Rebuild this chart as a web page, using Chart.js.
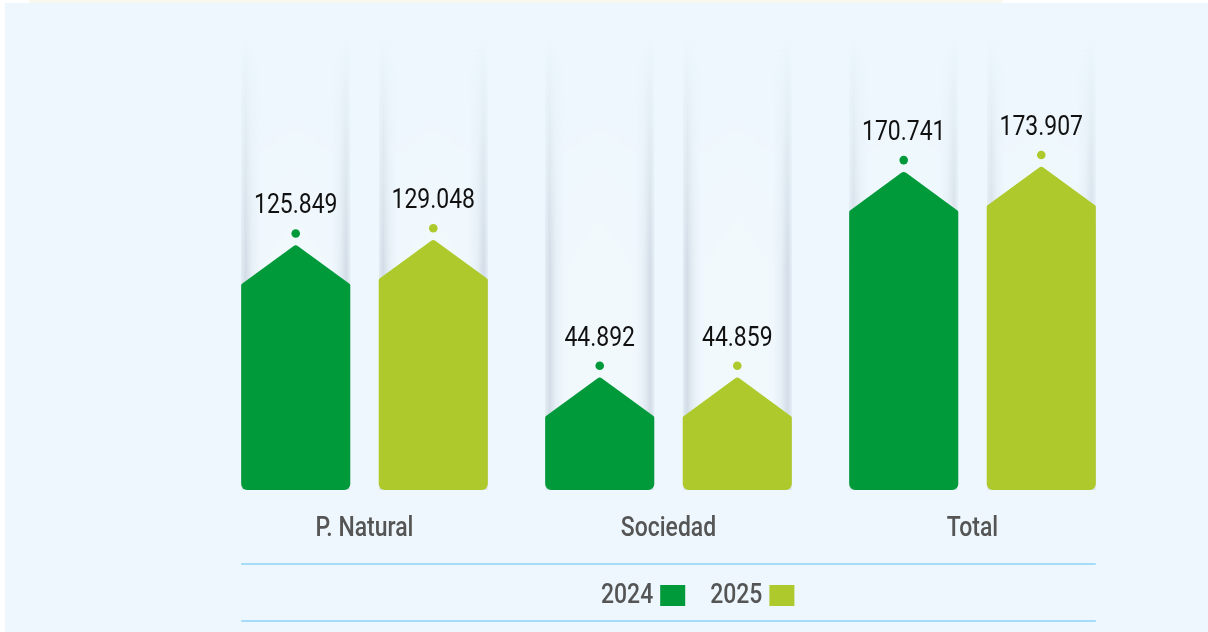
<!DOCTYPE html>
<html>
<head>
<meta charset="utf-8">
<script src="https://cdn.jsdelivr.net/npm/chart.js@4.4.1/dist/chart.umd.min.js"></script>
<style>
  html, body { margin: 0; padding: 0; background: #ffffff; width: 1208px; height: 632px; overflow: hidden; }
  #strip { position: absolute; left: 29px; top: 0; width: 973px; height: 3px; background: #f8f8ee; }
  #panel { position: absolute; left: 5px; top: 3px; width: 1203px; height: 629px; background: #edf7fd; }
  #c { position: absolute; left: 0; top: 0; }
</style>
</head>
<body>
<div id="strip"></div>
<div id="panel"></div>
<canvas id="c" width="1208" height="632"></canvas>
<script>
const categories = ['P. Natural', 'Sociedad', 'Total'];
const seriesNames = ['2024', '2025'];
const values2024 = [125849, 44892, 170741];
const values2025 = [129048, 44859, 173907];
const seriesColors = ['#019a3a', '#adc92b'];

const FONT = "Roboto, 'Liberation Sans', sans-serif";
const SQUEEZE = 0.82;

function fmt(v) {
  return String(v).replace(/\B(?=(\d{3})+(?!\d))/g, '.');
}

function narrowText(ctx, text, x, y, align) {
  ctx.save();
  ctx.translate(x, y);
  ctx.scale(SQUEEZE, 1);
  ctx.textAlign = align;
  ctx.textBaseline = 'middle';
  ctx.fillText(text, 0, 0);
  ctx.restore();
}

function makeColumn(w, h, fadeTop) {
  const oc = document.createElement('canvas');
  oc.width = Math.ceil(w); oc.height = Math.ceil(h);
  const o = oc.getContext('2d');
  const g = o.createLinearGradient(0, 0, w, 0);
  g.addColorStop(0.00, 'rgba(190,198,212,0.22)');
  g.addColorStop(0.04, 'rgba(178,187,202,0.45)');
  g.addColorStop(0.10, 'rgba(210,217,228,0.25)');
  g.addColorStop(0.18, 'rgba(255,255,255,0.22)');
  g.addColorStop(0.50, 'rgba(255,255,255,0.28)');
  g.addColorStop(0.82, 'rgba(255,255,255,0.22)');
  g.addColorStop(0.90, 'rgba(210,217,228,0.25)');
  g.addColorStop(0.96, 'rgba(178,187,202,0.45)');
  g.addColorStop(1.00, 'rgba(190,198,212,0.22)');
  o.fillStyle = g;
  o.fillRect(0, 0, w, h);
  o.globalCompositeOperation = 'destination-in';
  const m = o.createLinearGradient(0, 0, 0, h);
  m.addColorStop(0, 'rgba(0,0,0,0)');
  m.addColorStop(Math.min(1, fadeTop / h), 'rgba(0,0,0,1)');
  m.addColorStop(1, 'rgba(0,0,0,1)');
  o.fillStyle = m;
  o.fillRect(0, 0, w, h);
  return oc;
}

const housePlugin = {
  id: 'house',
  beforeDatasetsDraw(chart) {
    const ctx = chart.ctx;
    const colTop = 37;
    chart.data.datasets.forEach((ds, di) => {
      const meta = chart.getDatasetMeta(di);
      meta.data.forEach((el) => {
        const p = el.getProps(['x', 'base', 'width'], true);
        const left = p.x - p.width / 2;
        const h = p.base - colTop;
        const img = makeColumn(p.width, h, 230);
        ctx.drawImage(img, left, colTop);
      });
    });
  },
  beforeDatasetDraw(chart, args) {
    const ctx = chart.ctx;
    const meta = args.meta;
    const ds = chart.data.datasets[args.index];
    const color = ds.backgroundColor;
    const roof = 40;
    meta.data.forEach((el, i) => {
      const p = el.getProps(['x', 'y', 'base', 'width'], true);
      const left = p.x - p.width / 2, right = p.x + p.width / 2;
      const top = p.y, bottom = p.base, r = 6;
      ctx.save();
      ctx.beginPath();
      ctx.moveTo(left, top + 2);
      ctx.arcTo(left, top, p.x, top - roof, 2);
      ctx.arcTo(p.x, top - roof, right, top, 4);
      ctx.arcTo(right, top, right, bottom, 2);
      ctx.lineTo(right, bottom - r);
      ctx.arcTo(right, bottom, right - r, bottom, r);
      ctx.lineTo(left + r, bottom);
      ctx.arcTo(left, bottom, left, bottom - r, r);
      ctx.closePath();
      ctx.fillStyle = color;
      ctx.fill();
      ctx.beginPath();
      ctx.arc(p.x, top - roof - 11, 4.3, 0, Math.PI * 2);
      ctx.fill();
      ctx.fillStyle = '#111111';
      ctx.font = '28px ' + FONT;
      narrowText(ctx, fmt(ds.data[i]), p.x, top - roof - 38, 'center');
      ctx.restore();
    });
    return false;
  },
  afterDraw(chart) {
    const ctx = chart.ctx;
    const xs = chart.scales.x;
    ctx.save();
    ctx.fillStyle = '#555555';
    ctx.font = '500 28px ' + FONT;
    categories.forEach((c, i) => {
      narrowText(ctx, c, xs.getPixelForValue(i), 529, 'center');
    });
    const m0 = chart.getDatasetMeta(0).data[0];
    const mL = chart.getDatasetMeta(chart.data.datasets.length - 1).data[categories.length - 1];
    const lx0 = m0.x - m0.width / 2, lx1 = mL.x + mL.width / 2;
    ctx.strokeStyle = '#a6dcf7';
    ctx.lineWidth = 2;
    [564, 621].forEach((y) => {
      ctx.beginPath();
      ctx.moveTo(lx0, y);
      ctx.lineTo(lx1, y);
      ctx.stroke();
    });
    let x = 601;
    chart.data.datasets.forEach((ds) => {
      ctx.fillStyle = '#555555';
      narrowText(ctx, ds.label, x, 596, 'left');
      const tw = ctx.measureText(ds.label).width * SQUEEZE;
      const bx = x + tw + 7;
      ctx.fillStyle = ds.backgroundColor;
      ctx.fillRect(bx, 585, 25, 21);
      x = bx + 25 + 25;
    });
    ctx.restore();
  }
};

new Chart(document.getElementById('c'), {
  type: 'bar',
  data: {
    labels: categories,
    datasets: [
      { label: seriesNames[0], data: values2024, backgroundColor: seriesColors[0] },
      { label: seriesNames[1], data: values2025, backgroundColor: seriesColors[1] }
    ]
  },
  options: {
    responsive: false,
    animation: false,
    devicePixelRatio: 1,
    layout: { padding: { left: 212.5, right: 83.5, top: 0, bottom: 142 } },
    categoryPercentage: 0.905,
    barPercentage: 0.793,
    plugins: { legend: { display: false }, tooltip: { enabled: false } },
    scales: {
      x: { display: false },
      y: { display: false, min: 0, max: 300000 }
    }
  },
  plugins: [housePlugin]
});
</script>
</body>
</html>
